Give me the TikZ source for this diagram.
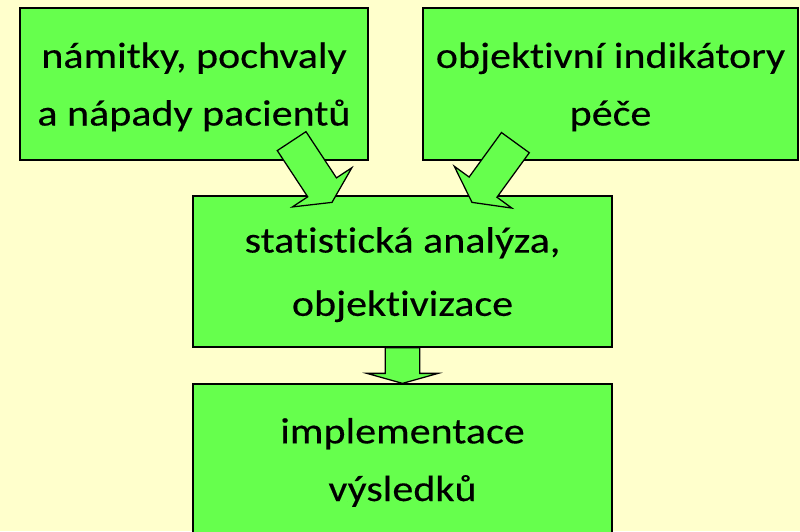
\documentclass[tikz,border=0pt]{standalone}
\usepackage{fontspec}
\setmainfont[FakeStretch=1.15, FakeBold=0.3, Ligatures={NoCommon}]{Carlito}
\usetikzlibrary{calc}

\definecolor{slidebg}{RGB}{255,255,204}
\definecolor{boxgreen}{RGB}{102,255,77}

% block arrow from #1 (tail) to #2 (tip), head length #3
\newcommand{\fatarrow}[3]{%
  \coordinate (hb) at ($(#2)!#3!(#1)$);
  \draw[fatarrow] ($(#1)!0.43cm!90:(#2)$) -- ($(hb)!0.43cm!90:(#2)$) -- ($(hb)!0.89cm!90:(#2)$)
    -- (#2) -- ($(hb)!0.89cm!-90:(#2)$) -- ($(hb)!0.43cm!-90:(#2)$) -- ($(#1)!0.43cm!-90:(#2)$) -- cycle;
}

\begin{document}
\begin{tikzpicture}[font=\fontsize{26}{41}\selectfont]
    \tikzstyle{box} = [rectangle, draw, fill=boxgreen, line width=0.9pt, align=center, inner sep=0pt, minimum height=3.8cm, text depth=0pt, execute at begin node={\rule{0pt}{0.9cm}}]
    \tikzstyle{fatarrow} = [draw, fill=boxgreen, line width=0.9pt, line join=miter]

    \useasboundingbox[fill=slidebg] (0,0) rectangle (20,-13.275);

    \node[box, minimum width=8.7cm] (patients) at (4.85,-2.1) {námitky, pochvaly\\a nápady pacientů};
    \node[box, minimum width=9.375cm] (indicators) at (15.2625,-2.1) {objektivní indikátory\\péče};
    \node[box, minimum width=10.475cm, minimum height=3.775cm, font=\fontsize{26}{45}\selectfont, execute at begin node={\rule{0pt}{0.95cm}}] (stat) at (10.0625,-6.7875) {statistická analýza,\\objektivizace};
    \node[box, minimum width=10.475cm, minimum height=3.775cm, below of=stat, node distance=4.7cm] (impl) {implementace\\výsledků};

    \coordinate (tail1) at ($(patients.south east)+(-1.925,0.4875)$);
    \coordinate (tip1) at ($(stat.north)+(-1.7625,-0.175)$);
    \coordinate (tail2) at ($(indicators.south west)+(2.325,0.45)$);
    \coordinate (tip2) at ($(stat.north)+(1.7375,-0.175)$);

    \fatarrow{tail1}{tip1}{0.45cm}
    \fatarrow{tail2}{tip2}{0.47cm}
    \fatarrow{stat.south}{impl.north}{0.25cm}

\end{tikzpicture}
\end{document}
